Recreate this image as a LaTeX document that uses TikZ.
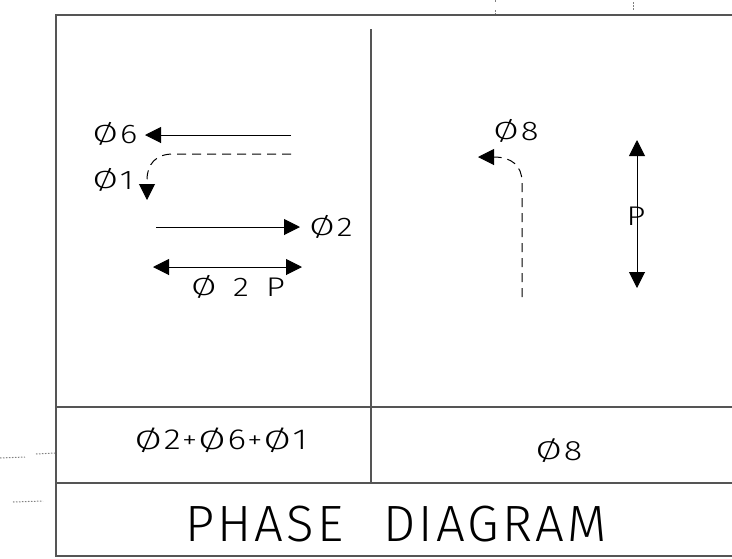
\documentclass[tikz,border=0pt]{standalone}
\usepackage{fontspec}
\usepackage{graphicx}
\setmainfont{Fira Sans}[UprightFont={* Light}]
\usetikzlibrary{arrows.meta}
\newcommand{\dia}{\raisebox{0.5pt}{\scalebox{1.12}[0.92]{Ø}}\kern1.5pt}
\newcommand{\cad}[1]{\scalebox{1.22}[1]{#1}}
\newcommand{\smallplus}{\kern1pt{\fontsize{25}{25}\selectfont\raisebox{1pt}{+}}\kern1pt}
\definecolor{frame}{RGB}{85,85,85}
\tikzset{
  frameline/.style={draw=frame, line width=2pt},
  sol/.style={draw=black, line width=1pt, -{Triangle[length=16pt,width=16pt]}},
  dsh/.style={draw=black, line width=1pt, dash pattern=on 9pt off 6pt, -{Triangle[length=16pt,width=16pt]}},
  dbl/.style={draw=black, line width=1pt, {Triangle[length=16pt,width=16pt]}-{Triangle[length=16pt,width=16pt]}},
  lbl/.style={inner sep=0pt, font=\fontsize{27}{27}\selectfont},
  big/.style={inner sep=0pt, font=\fontsize{51}{51}\selectfont\addfontfeature{LetterSpace=6.2}},
  tick/.style={draw=gray, line width=1pt, dash pattern=on 1.5pt off 1.5pt}
}
\begin{document}
\begin{tikzpicture}[x=1pt,y=-1pt]
\useasboundingbox (0,0) rectangle (732,558);
% frame
\coordinate (tl) at (56,15);
\coordinate (tr) at (733,15);
\coordinate (bl) at (56,556);
\coordinate (br) at (733,556);
\coordinate (m1l) at (56,407);
\coordinate (m1r) at (733,407);
\coordinate (m2l) at (56,483);
\coordinate (m2r) at (733,483);
\coordinate (vt) at (371,29);
\coordinate (vb) at (371,483);
\draw[frameline] (tr) -- (tl) -- (bl) -- (br);
\draw[frameline] (m1l) -- (m1r);
\draw[frameline] (m2l) -- (m2r);
\draw[frameline] (vt) -- (vb);
% small marks
\coordinate (k1a) at (495,0);  \coordinate (k1b) at (495,3);
\coordinate (k2a) at (495,10); \coordinate (k2b) at (495,14);
\coordinate (k3a) at (633,2);  \coordinate (k3b) at (633,11);
\coordinate (k4a) at (0,458);  \coordinate (k4b) at (25,457);
\coordinate (k5a) at (36,454); \coordinate (k5b) at (55,453);
\coordinate (k6a) at (13,502); \coordinate (k6b) at (43,501);
\draw[tick] (k1a) -- (k1b);
\draw[tick] (k2a) -- (k2b);
\draw[tick] (k3a) -- (k3b);
\draw[tick] (k4a) -- (k4b);
\draw[tick] (k5a) -- (k5b);
\draw[tick] (k6a) -- (k6b);
% left panel
\node[lbl] (p6) at (115,134) {\cad{\dia6}};
\node[lbl] (p1) at (113,180) {\cad{\dia1}};
\node[lbl] (p2) at (331,227) {\cad{\dia2}};
\node[lbl] (p2p) at (238,287) {\cad{\dia\hspace{12pt}2\hspace{14pt}P}};
\coordinate (a6s) at (291,135);
\coordinate (a6e) at (145,135);
\draw[sol] (a6s) -- (a6e);
\coordinate (a1s) at (291,154);
\coordinate (a1m) at (173,154);
\coordinate (a1c) at (147,180);
\coordinate (a1e) at (147,200);
\draw[dsh] (a1s) -- (a1m) .. controls (156,154) and (147,164) .. (a1c) -- (a1e);
\coordinate (a2s) at (156,227);
\coordinate (a2e) at (300,227);
\draw[sol] (a2s) -- (a2e);
\coordinate (d1) at (153,267);
\coordinate (d2) at (302,267);
\draw[dbl] (d1) -- (d2);
% right panel
\node[lbl] (p8) at (516,131) {\cad{\dia8}};
\coordinate (b8s) at (522,297);
\coordinate (b8m) at (522,182);
\coordinate (b8e) at (478,157);
\draw[dsh] (b8s) -- (b8m) .. controls (522,166) and (512,157) .. (b8e);
\coordinate (pt) at (637,140);
\coordinate (pb) at (637,288);
\draw[dbl] (pt) -- (pb);
\node[lbl] (pp) at (636,216) {\cad{P}};
% bottom rows
\node[lbl, font=\fontsize{29}{29}\selectfont] (sum) at (221,440) {\cad{\dia2\smallplus\dia6\smallplus\dia1}};
\node[lbl, font=\fontsize{28}{28}\selectfont] (p8b) at (559,451) {\cad{\dia8}};
\node[big] (title) at (396,524) {PHASE\hspace{40pt}DIAGRAM};
\end{tikzpicture}
\end{document}
